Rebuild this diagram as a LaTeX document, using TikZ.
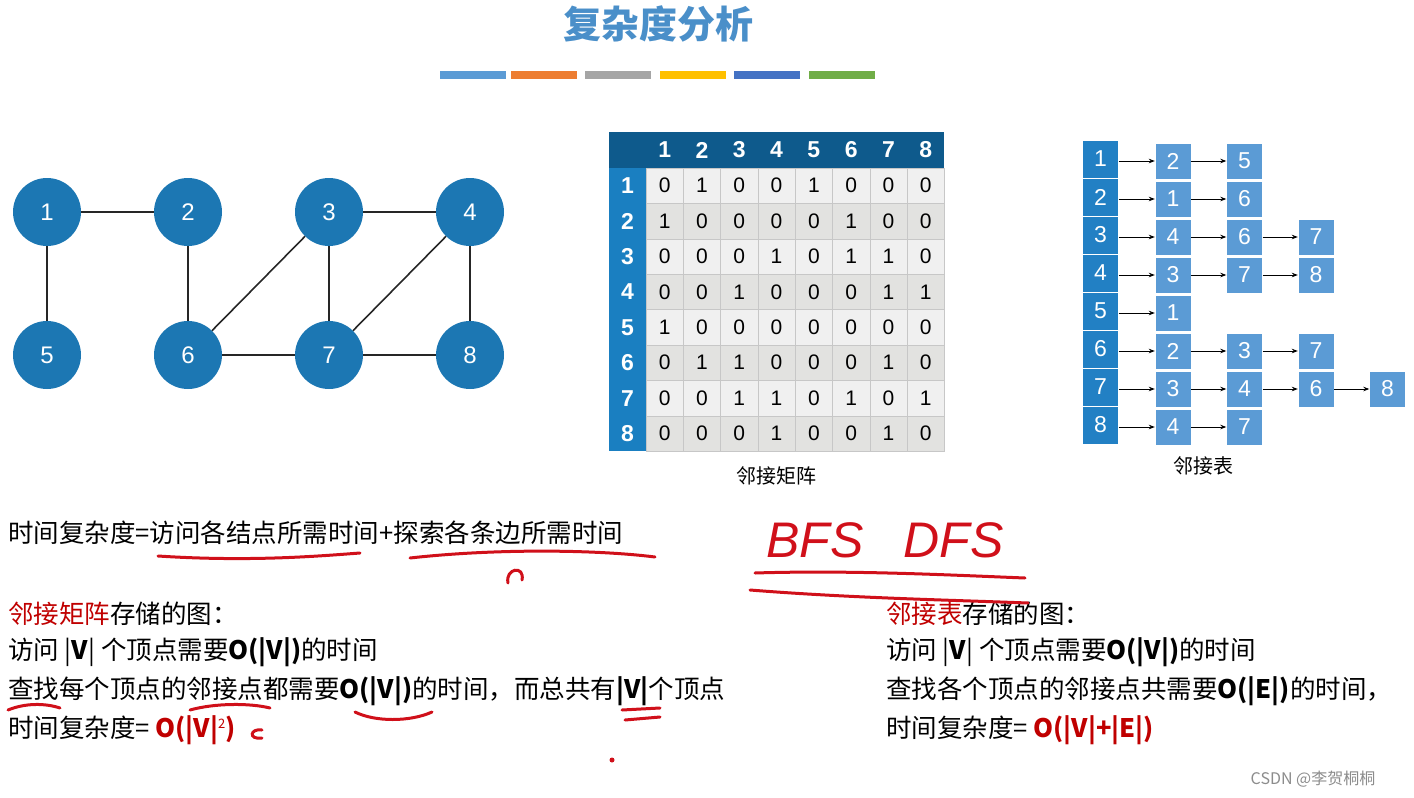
\documentclass[tikz,border=0pt]{standalone}
\usepackage{fontspec}
\setmainfont{Noto Sans CJK SC}
\setsansfont{Liberation Sans}
\usetikzlibrary{arrows.meta}
\definecolor{gnode}{HTML}{1C77B3}
\definecolor{hdark}{HTML}{0E5A8C}
\definecolor{hrow}{HTML}{1A7FC1}
\definecolor{lcell}{HTML}{5B9BD5}
\definecolor{lleft}{HTML}{2280C4}
\definecolor{ttl}{HTML}{4A8FC9}
\definecolor{rd}{HTML}{C00000}
\definecolor{hand}{HTML}{D0101A}
\definecolor{ca}{HTML}{F0F0F0}
\definecolor{cb}{HTML}{E2E2E0}
\tikzset{
 gv/.style={circle,fill=gnode,minimum size=68pt,inner sep=0,text=white,font=\sffamily\fontsize{24}{24}\selectfont},
 ge/.style={line width=1.6pt,black!85},
 mc/.style={draw=black!22,minimum width=37.3pt,minimum height=35.4pt,inner sep=0,font=\sffamily\fontsize{21}{21}\selectfont},
 lc/.style={fill=lcell,draw=white,minimum width=36pt,minimum height=36pt,inner sep=0,text=white,font=\sffamily\fontsize{23}{23}\selectfont},
 ll/.style={fill=lleft,draw=white,minimum width=36pt,minimum height=38pt,inner sep=0,text=white,font=\sffamily\fontsize{23}{23}\selectfont},
 la/.style={-{Stealth[length=6pt]},line width=0.8pt},
 tx/.style={anchor=west,inner sep=0,font=\fontsize{25.5}{28}\selectfont},
 hw/.style={hand,line width=3pt,line cap=round}
}
\begin{document}
\begin{tikzpicture}[x=1pt,y=-1pt]
\useasboundingbox (0,0) rectangle (1414,798);
\node[text=ttl,font=\fontsize{38}{38}\selectfont\bfseries] (title) at (658,24) {复杂度分析};
\foreach \a/\c in {440/5B9BD5,511/ED7D31,585/A5A5A5,660/FFC000,734/4472C4,809/70AD47}{
 \definecolor{bc}{HTML}{\c}\fill[bc] (\a,71) rectangle ++(66,8);}
% graph
\foreach \n/\x/\y in {1/47/212,2/188/212,3/329/212,4/470/212,5/47/355,6/188/355,7/329/355,8/470/355}
 \node[gv] (g\n) at (\x,\y) {\n};
\foreach \a/\b in {1/2,1/5,2/6,3/6,3/4,3/7,4/7,4/8,6/7,7/8} \draw[ge] (g\a)--(g\b);
% matrix
\fill[hdark] (609,132) rectangle (944,168);
\fill[hrow] (609,168) rectangle (646,451);
\foreach \j in {1,...,8} \node[text=white,font=\sffamily\fontsize{23}{23}\selectfont\bfseries] (ch\j) at ({646+37.3*(\j-0.5)},150) {\j};
\foreach \i in {1,...,8} \node[text=white,font=\sffamily\fontsize{23}{23}\selectfont\bfseries] (rh\i) at (627.5,{168+35.4*(\i-0.5)}) {\i};
\foreach \row [count=\i] in {{0,1,0,0,1,0,0,0},{1,0,0,0,0,1,0,0},{0,0,0,1,0,1,1,0},{0,0,1,0,0,0,1,1},{1,0,0,0,0,0,0,0},{0,1,1,0,0,0,1,0},{0,0,1,1,0,1,0,1},{0,0,0,1,0,0,1,0}}{
 \ifodd\i \def\cc{ca}\else\def\cc{cb}\fi
 \foreach \v [count=\j] in \row
  \node[mc,fill=\cc] (m\i\j) at ({646+37.3*(\j-0.5)},{168+35.4*(\i-0.5)}) {\v};}
\node[font=\fontsize{20}{20}\selectfont] (mlab) at (776,476) {邻接矩阵};
% adjacency list
\foreach \i in {1,...,8} \node[ll] (h\i) at (1100.5,{159+38*(\i-1)}) {\i};
\foreach \row [count=\i] in {{2,5},{1,6},{4,6,7},{3,7,8},{1},{2,3,7},{3,4,6,8},{4,7}}{
 \foreach \v [count=\j] in \row {
  \node[lc] (c\i\j) at ({1173+71.5*(\j-1)},{161+38*(\i-1)}) {\v};
  \pgfmathtruncatemacro\p{\j-1}
  \ifnum\j=1 \draw[la] (h\i.east|-c\i\j) -- (c\i\j.west);
  \else \draw[la] (c\i\p.east) -- (c\i\j.west); \fi }}
\node[font=\fontsize{20}{20}\selectfont] (llab) at (1203,466) {邻接表};
% texts
\node[tx] (t1) at (8,533) {时间复杂度=访问各结点所需时间+探索各条边所需时间};
\node[tx] (t2) at (8,614) {\textcolor{rd}{邻接矩阵}存储的图：};
\node[tx] (t3) at (8,652) {访问 |\textbf{V}| 个顶点需要\textbf{O(|V|)}的时间};
\node[tx] (t4) at (8,691) {查找每个顶点的邻接点都需要\textbf{O(|V|)}的时间，而总共有\textbf{|V|}个顶点};
\node[tx] (t5) at (8,730) {时间复杂度= \textcolor{rd}{\textbf{O(|V|}\raisebox{0.6ex}{\fontsize{13}{13}\selectfont 2}\textbf{)}}};
\node[tx] (r2) at (886,614) {\textcolor{rd}{邻接表}存储的图：};
\node[tx] (r3) at (886,652) {访问 |\textbf{V}| 个顶点需要\textbf{O(|V|)}的时间};
\node[tx] (r4) at (886,691) {查找各个顶点的邻接点共需要\textbf{O(|E|)}的时间，};
\node[tx] (r5) at (886,730) {时间复杂度= \textcolor{rd}{\textbf{O(|V|+|E|)}}};
\node[text=black!45,font=\fontsize{16}{16}\selectfont] (wm) at (1313,779) {CSDN @李贺桐桐};
% handwriting
\node[text=hand,font=\sffamily\fontsize{50}{50}\selectfont\itshape] (bfs) at (885,540) {BFS\hspace{0.8em}DFS};
\draw[hw] (158,556) .. controls (250,562) and (320,556) .. (360,553);
\draw[hw] (410,558) .. controls (500,548) and (600,550) .. (655,557);
\draw[hw] (508,583) .. controls (505,568) and (525,565) .. (522,580);
\draw[hw] (755,573) .. controls (850,570) and (950,575) .. (1025,578);
\draw[hw] (750,590) .. controls (850,598) and (950,600) .. (1028,603);
\draw[hw] (8,710) .. controls (25,703) and (45,703) .. (60,708);
\draw[hw] (190,710) .. controls (215,703) and (250,703) .. (270,708);
\draw[hw] (355,712) .. controls (375,722) and (410,722) .. (432,712);
\draw[hw] (622,710) -- (660,708);
\draw[hw] (625,720) -- (660,717);
\draw[hw] (262,730) .. controls (250,728) and (248,740) .. (262,738);
\fill[hand] (612,760) circle (2.5);
\end{tikzpicture}
\end{document}
